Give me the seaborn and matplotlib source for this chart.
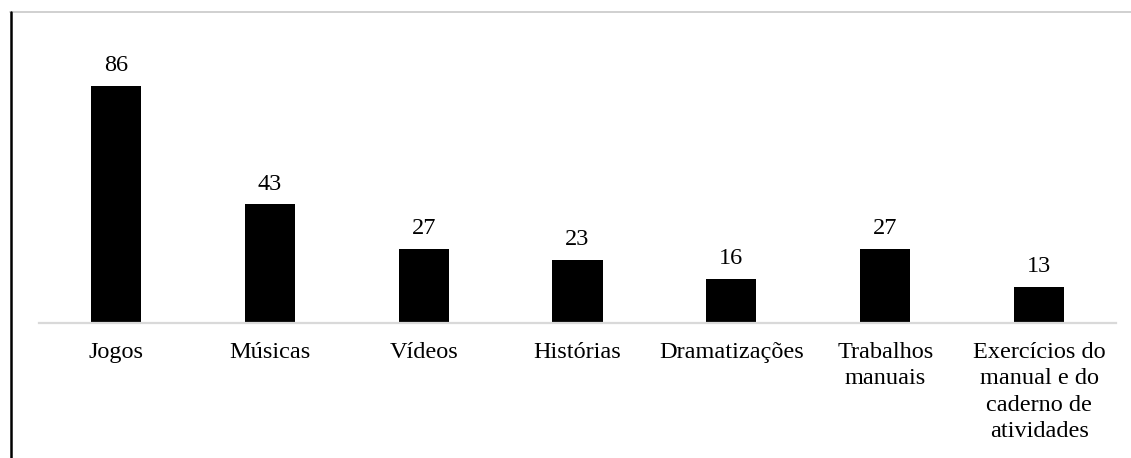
import matplotlib
matplotlib.use("Agg")
import matplotlib.pyplot as plt
import seaborn as sns
import pandas as pd
from matplotlib.lines import Line2D

categories = ["Jogos", "Músicas", "Vídeos", "Histórias", "Dramatizações",
              "Trabalhos\nmanuais", "Exercícios do\nmanual e do\ncaderno de\natividades"]
values = [86, 43, 27, 23, 16, 27, 13]

df = pd.DataFrame({"cat": categories, "val": values})

sns.set_theme(style="white")
plt.rcParams["font.family"] = ["Liberation Serif", "DejaVu Serif"]

W, H = 1131, 458
FS = 17.5
fig = plt.figure(figsize=(W / 100, H / 100), dpi=100)
ax = fig.add_axes([39 / W, 1 - 323 / H, (1116 - 39) / W, (323 - 47.4) / H])

sns.barplot(data=df, x="cat", y="val", color="black", width=0.325,
            saturation=1, ax=ax, edgecolor="black", linewidth=0)

ax.set_ylim(0, 100)
ax.set_xlim(-0.5, len(categories) - 0.5)
ax.set_xlabel("")
ax.set_ylabel("")
ax.set_yticks([])
for s in ["left", "right", "top"]:
    ax.spines[s].set_visible(False)
ax.spines["bottom"].set_color("#d9d9d9")
ax.spines["bottom"].set_linewidth(1.6)
ax.tick_params(axis="x", length=0, pad=13.5, labelsize=FS, colors="black")
for t in ax.get_xticklabels():
    t.set_linespacing(1.34)
    t.set_va("top")

for c in ax.containers:
    ax.bar_label(c, labels=[str(v) for v in values], padding=7, fontsize=FS, color="black")

# chart frame decorations
fig.add_artist(Line2D([10 / W, 1], [1 - 12 / H, 1 - 12 / H], color="#c8c8c8", lw=1.2, transform=fig.transFigure))
fig.add_artist(Line2D([10.5 / W, 10.5 / W], [0, 1 - 12 / H], color="black", lw=1.8, transform=fig.transFigure))

fig.savefig("out.png", dpi=100)
